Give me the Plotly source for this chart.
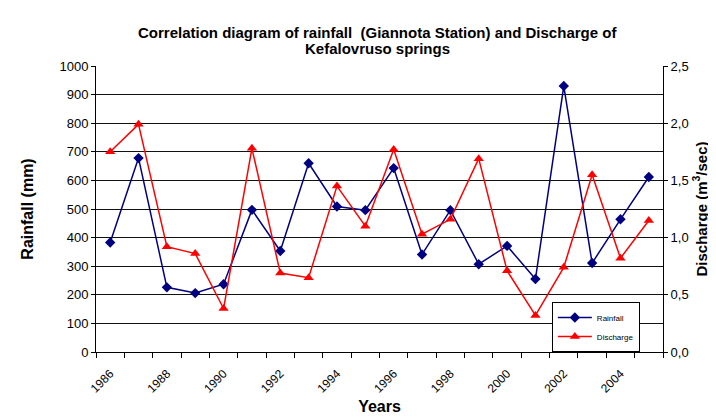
import plotly.graph_objects as go

years = list(range(1986, 2006))
rainfall = [383, 678, 226, 206, 237, 497, 353, 660, 509, 496,
            643, 341, 496, 307, 371, 255, 930, 311, 464, 612]
discharge = [1.75, 1.99, 0.92, 0.86, 0.38, 1.78, 0.69, 0.65, 1.45, 1.10,
             1.77, 1.03, 1.16, 1.69, 0.71, 0.32, 0.74, 1.55, 0.82, 1.15]
label_years = years[0:19:2]
rain_ticks = list(range(0, 1001, 100))
dis_ticks = [0.0, 0.5, 1.0, 1.5, 2.0, 2.5]
title_lines = ["Correlation diagram of rainfall  (Giannota Station) and Discharge of",
               "Kefalovruso springs"]

FONT = "Arial, Liberation Sans, sans-serif"

fig = go.Figure()
fig.add_trace(go.Scatter(
    x=years, y=rainfall, name="Rainfall", mode="lines+markers",
    line=dict(color="#000080", width=1.5),
    marker=dict(symbol="diamond", size=8, color="#000080"),
    yaxis="y"))
fig.add_trace(go.Scatter(
    x=years, y=discharge, name="Discharge", mode="lines+markers",
    line=dict(color="#FF0000", width=1.5),
    marker=dict(symbol="triangle-up", size=9, color="#FF0000"),
    yaxis="y2"))

minor_vals = [y - 0.5 for y in years] + [years[-1] + 0.5]

# page body has an 8px margin, so the figure is sized to the visible area
W, H = 708, 410
L, R, T, B = 88, 53, 58, 66
ph = H - T - B

fig.update_layout(
    width=W, height=H,
    margin=dict(l=L, r=R, t=T, b=B, autoexpand=False),
    paper_bgcolor="white", plot_bgcolor="white",
    separators=",.",
    font=dict(family=FONT, color="black", size=12),
    xaxis=dict(
        range=[years[0] - 0.5, years[-1] + 0.5],
        tickmode="array", tickvals=label_years,
        ticktext=[str(y) for y in label_years],
        tickangle=-45, ticks="outside", ticklen=9, tickcolor="rgba(0,0,0,0)",
        showgrid=False,
        tickfont=dict(size=12), automargin=False,
        showline=True, linecolor="black", linewidth=1,
        minor=dict(tickmode="array", tickvals=minor_vals, ticks="outside",
                   ticklen=5, tickcolor="black", showgrid=False),
        title=dict(text="<b>Years</b>", font=dict(size=16), standoff=6),
        zeroline=False),
    yaxis=dict(
        range=[0, 1000], tickmode="array", tickvals=rain_ticks,
        ticks="outside", ticklen=4, tickcolor="black",
        showgrid=True, gridcolor="#111111", gridwidth=1,
        showline=True, linecolor="black", linewidth=1,
        zeroline=False, tickfont=dict(size=13), automargin=False,
        title=dict(text="<b>Rainfall (mm)</b>", font=dict(size=16), standoff=21)),
    yaxis2=dict(
        range=[0, 2.5], overlaying="y", side="right",
        tickmode="array", tickvals=dis_ticks, tickformat=".1f",
        ticks="outside", ticklen=4, tickcolor="black",
        showgrid=False, showline=True, linecolor="black", linewidth=1,
        zeroline=False, tickfont=dict(size=13), automargin=False,
        title=dict(text="<b>Discharge (m<sup>3</sup>/sec)</b>", font=dict(size=15), standoff=8)),
    legend=dict(
        x=0.804, y=0.0, xanchor="left", yanchor="bottom",
        bgcolor="white", bordercolor="black", borderwidth=1,
        font=dict(size=8), itemwidth=34, tracegroupgap=0),
    showlegend=True,
)

cx = (369 - L) / (W - L - R)
for i, txt in enumerate(title_lines):
    yfig = 25 + 15 * i
    fig.add_annotation(
        text=f"<b>{txt}</b>", xref="paper", yref="paper",
        x=cx, y=(T + ph - yfig) / ph, xanchor="center", yanchor="middle",
        showarrow=False, font=dict(size=15, family=FONT, color="black"))

fig.write_html("out.html")
